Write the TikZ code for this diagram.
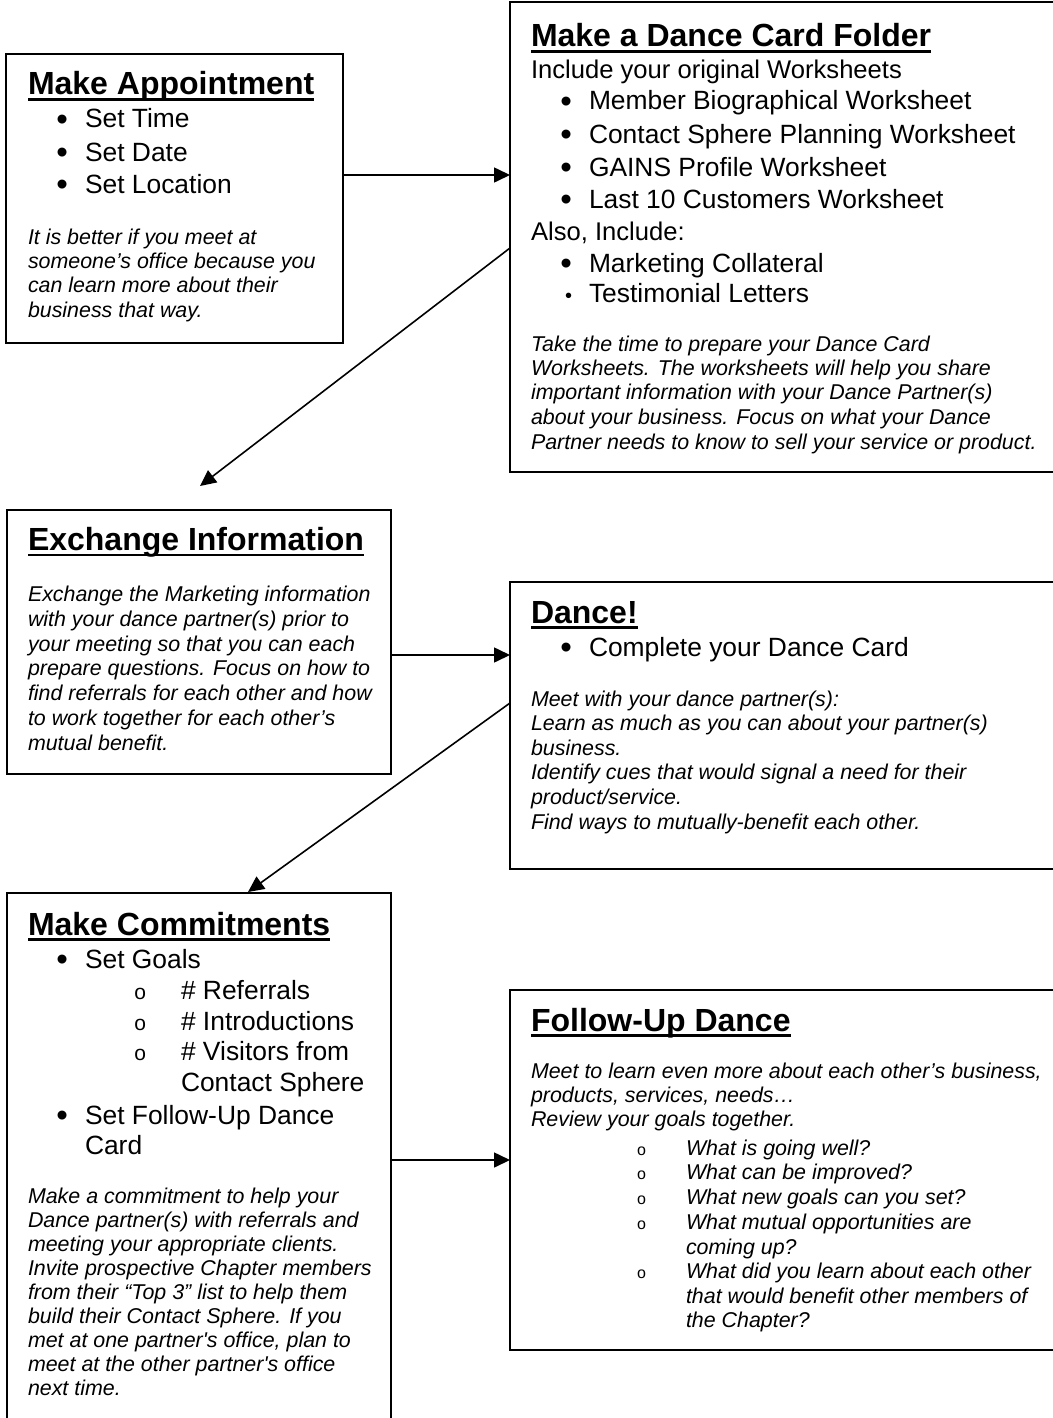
\documentclass[tikz,border=0pt]{standalone}
\usepackage{fontspec}
\setmainfont{Liberation Sans}
\usetikzlibrary{arrows.meta}
\newcommand\bodyf{\fontsize{25.6}{32}\selectfont}
\newcommand\lstf{\fontsize{26.4}{32}\selectfont}
\newcommand\titf{\fontsize{32}{38}\selectfont\bfseries}
\newcommand\itf{\fontsize{21.4}{24.5}\selectfont\itshape}
\newcommand\bul{\llap{\smash{\fontsize{33}{33}\selectfont\raisebox{-2.5pt}{•}}\hspace{17pt}}}
\newcommand\sbul{\llap{\upshape{\fontsize{21}{21}\selectfont o}\hspace{35pt}}}
\newcommand\ssbul{\llap{\upshape{\fontsize{16}{16}\selectfont o}\hspace{40pt}}}
\newcommand\ulnode[1]{\draw[line width=2.8pt] ([yshift=-4.5pt]#1.base west) -- ([yshift=-4.5pt]#1.base east);}
\begin{document}
\begin{tikzpicture}[x=1pt,y=-1pt,
  txt/.style={anchor=base west,inner sep=0pt,outer sep=0pt},
  ttl/.style={txt,font=\titf},
  bod/.style={txt,font=\bodyf},
  lst/.style={txt,font=\lstf},
  itl/.style={txt,font=\itf},
  box/.style={draw,line width=1.8pt,anchor=north west,inner sep=0pt,outer sep=0pt},
  arr/.style={line width=1.6pt,-{Triangle[length=16pt,width=15pt]}}]
\useasboundingbox (0,0) rectangle (1052,1418);
\fill[white] (0,0) rectangle (1052,1418);

% boxes
\node[box,minimum width=337pt,minimum height=289pt] (B1) at (6,54) {};
\node[box,minimum width=560pt,minimum height=470pt] (B2) at (510,2) {};
\node[box,minimum width=384pt,minimum height=264pt] (B3) at (7,510) {};
\node[box,minimum width=560pt,minimum height=287pt] (B4) at (510,582) {};
\node[box,minimum width=384pt,minimum height=545pt] (B5) at (7,893) {};
\node[box,minimum width=560pt,minimum height=360pt] (B6) at (510,990) {};

% Box 1
\node[ttl] (T1) at (28,95) {Make Appointment}; \ulnode{T1}
\foreach \yy/\t in {128/Set Time,161/Set Date,193/Set Location}
  \node[lst] (l1-\yy) at (85,\yy) {\bul\t};
\foreach \yy/\t in {244/It is better if you meet at,268/someone’s office because you,292.5/can learn more about their,317/business that way.}
  \node[itl] (p1-\yy) at (28,\yy) {\t};

% Box 2
\node[ttl] (T2) at (531,47) {Make a Dance Card Folder}; \ulnode{T2}
\node[bod] (i2a) at (531,79) {Include your original Worksheets};
\foreach \yy/\t in {110/Member Biographical Worksheet,143/Contact Sphere Planning Worksheet,176/GAINS Profile Worksheet,208/Last 10 Customers Worksheet}
  \node[lst] (l2-\yy) at (589,\yy) {\bul\t};
\node[bod] (i2b) at (531,240) {Also, Include:};
\node[lst] (l2-272) at (589,272) {\bul Marketing Collateral};
\node[lst] (l2-302) at (589,302) {\llap{\fontsize{20}{20}\selectfont•\hspace{17pt}}Testimonial Letters};
\begin{scope}
\clip (510,330) rectangle (1052,453);
\foreach \yy/\t in {351/Take the time to prepare your Dance Card,375.3/Worksheets. The worksheets will help you share,399.6/important information with your Dance Partner(s),424/about your business. Focus on what your Dance,449.5/Partner needs to know to sell your service or product.}
  \node[itl] (p2-\yy) at (531,\yy) {\t};
\end{scope}

% Box 3
\node[ttl] (T3) at (28,550.5) {Exchange Information}; \ulnode{T3}
\foreach \yy/\t in {601.5/Exchange the Marketing information,626.3/with your dance partner(s) prior to,651.1/your meeting so that you can each,675.9/prepare questions. Focus on how to,700.7/find referrals for each other and how,725.5/to work together for each other’s,750.3/mutual benefit.}
  \node[itl] (p3-\yy) at (28,\yy) {\t};

% Box 4
\node[ttl] (T4) at (531,623) {Dance!}; \ulnode{T4}
\node[lst] (l4) at (589,656) {\bul Complete your Dance Card};
\foreach \yy/\t in {706/Meet with your dance partner(s):,730.6/Learn as much as you can about your partner(s),755.2/business.,779.8/Identify cues that would signal a need for their,804.4/{product/service.},829/Find ways to mutually-benefit each other.}
  \node[itl] (p4-\yy) at (531,\yy) {\t};

% Box 5
\node[ttl] (T5) at (28,935) {Make Commitments}; \ulnode{T5}
\node[lst] (l5a) at (85,968) {\bul Set Goals};
\node[lst] (l5b) at (181,999) {\sbul\# Referrals};
\node[lst] (l5c) at (181,1030) {\sbul\# Introductions};
\node[lst] (l5d) at (181,1060) {\sbul\# Visitors from};
\node[lst] (l5e) at (181,1091) {Contact Sphere};
\node[lst] (l5f) at (85,1124) {\bul Set Follow-Up Dance};
\node[lst] (l5g) at (85,1154) {Card};
\foreach \yy/\t in {1203/Make a commitment to help your,1227/Dance partner(s) with referrals and,1251/meeting your appropriate clients.,1275/Invite prospective Chapter members,1299/from their “Top 3” list to help them,1323/build their Contact Sphere. If you,1347/{met at one partner\textquotesingle s office, plan to},1371/meet at the other partner\textquotesingle s office,1395/next time.}
  \node[itl] (p5-\yy) at (28,\yy) {\t};

% Box 6
\node[ttl] (T6) at (531,1031) {Follow-Up Dance}; \ulnode{T6}
\foreach \yy/\t in {1078/{Meet to learn even more about each other’s business,},1102/{products, services, needs…},1126/Review your goals together.}
  \node[itl] (p6-\yy) at (531,\yy) {\t};
\foreach \yy/\t in {1155/What is going well?,1179/What can be improved?,1204/What new goals can you set?,1229/What mutual opportunities are,1278/What did you learn about each other}
  \node[itl] (q6-\yy) at (686,\yy) {\ssbul\t};
\foreach \yy/\t in {1254/coming up?,1303/that would benefit other members of,1327/the Chapter?}
  \node[itl] (r6-\yy) at (686,\yy) {\t};

% connectors
\coordinate (e2) at (200,486);
\coordinate (e4) at (248,892);
\draw[arr] (B1.east |- 0,175) -- (B2.west |- 0,175);
\draw[arr] (B2.west |- 0,248) -- (e2);
\draw[arr] (B3.east |- 0,655) -- (B4.west |- 0,655);
\draw[arr] (B4.west |- 0,703) -- (e4);
\draw[arr] (B5.east |- 0,1160) -- (B6.west |- 0,1160);
\end{tikzpicture}
\end{document}
